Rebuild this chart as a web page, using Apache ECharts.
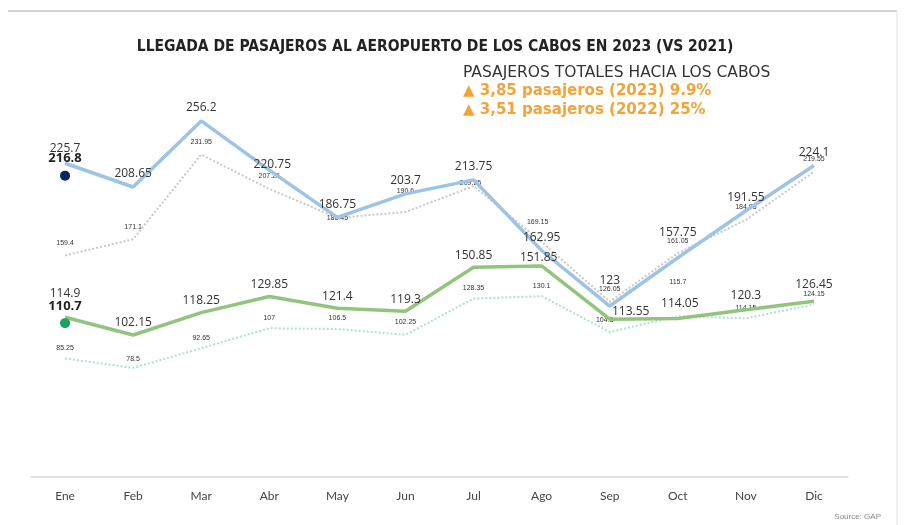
<!DOCTYPE html>
<html>
<head>
<meta charset="utf-8">
<script src="https://cdn.jsdelivr.net/npm/echarts@6/dist/echarts.min.js"></script>
<style>
  html, body { margin: 0; padding: 0; background: #fff; }
  #chart { width: 904px; height: 525px; }
</style>
</head>
<body>
<div id="chart"></div>
<script>
const months = ['Ene', 'Feb', 'Mar', 'Abr', 'May', 'Jun', 'Jul', 'Ago', 'Sep', 'Oct', 'Nov', 'Dic']

// totals (blue) and domestic-ish (green); solid = 2022, dotted = 2021, dot = 2023
const blue2022 = [225.7, 208.65, 256.2, 220.75, 186.75, 203.7, 213.75, 162.95, 123, 157.75, 191.55, 224.1]
const blue2021 = [159.4, 171.1, 231.95, 207.25, 186.45, 190.6, 209.25, 169.15, 126.05, 161.05, 184.95, 219.55]
const blue2023 = [216.8]
const green2022 = [114.9, 102.15, 118.25, 129.85, 121.4, 119.3, 150.85, 151.85, 113.55, 114.05, 120.3, 126.45]
const green2021 = [85.25, 78.5, 92.65, 107, 106.5, 102.25, 128.35, 130.1, 104.3, 115.7, 114.15, 124.15]
const green2023 = [110.7]

// label nudges [dx, dy] so the crowded labels sit where the original has them
const blue2022Nudge = { 0: [0, -2], 3: [3, 7], 8: [0, -12], 9: [0, -12] }
const blue2021Nudge = { 4: [0, 13], 5: [0, -9], 6: [-3, 9], 7: [-4, -7] }
const green2022Nudge = { 0: [0, -12], 7: [-3, 4], 8: [21, 4], 9: [2, -3], 10: [0, -2], 11: [0, -5] }
const green2021Nudge = { 1: [0, 2], 5: [0, -2], 8: [-5, -1], 9: [0, -24] }

const withNudge = (values, nudge) =>
  values.map((v, i) => (nudge[i] ? { value: v, label: { offset: nudge[i] } } : v))

const chart = echarts.init(document.getElementById('chart'))

const bigLabel = (dist) => ({
  show: true,
  position: 'top',
  distance: dist,
  fontSize: 12,
  color: '#333',
  fontFamily: 'Open Sans',
})
const smallLabel = (dist) => ({
  show: true,
  position: 'top',
  distance: dist,
  fontSize: 7,
  color: '#333',
  fontFamily: 'Liberation Sans',
})
// line labels need a symbol, keep it invisible
const hiddenDot = {
  symbol: 'circle',
  symbolSize: 2,
  showSymbol: true,
  showAllSymbol: true,
  itemStyle: { color: 'rgba(0,0,0,0)', borderWidth: 0 },
}

const option = {
  animation: false,
  title: [
    {
      text: 'LLEGADA DE PASAJEROS AL AEROPUERTO DE LOS CABOS EN 2023 (VS 2021)',
      left: 430,
      textAlign: 'center',
      top: 34,
      textStyle: { fontFamily: 'DejaVu Sans Condensed', fontSize: 15.5, fontWeight: 'bold', color: '#222' },
    },
    {
      text: 'PASAJEROS TOTALES HACIA LOS CABOS',
      left: 458,
      top: 60,
      textStyle: { fontFamily: 'DejaVu Sans', fontSize: 15.5, fontWeight: 'normal', color: '#333' },
    },
    {
      text: '▲ 3,85 pasajeros (2023) 9.9%',
      left: 458,
      top: 79,
      textStyle: { fontFamily: 'DejaVu Sans', fontSize: 15, fontWeight: 'bold', color: '#f2a43a' },
    },
    {
      text: '▲ 3,51 pasajeros (2022) 25%',
      left: 458,
      top: 98,
      textStyle: { fontFamily: 'DejaVu Sans', fontSize: 15, fontWeight: 'bold', color: '#f2a43a' },
    },
    {
      text: 'Source: GAP',
      right: 18,
      top: 508,
      textStyle: { fontFamily: 'Liberation Sans', fontSize: 8, fontWeight: 'normal', color: '#888' },
    },
  ],
  graphic: [
    { type: 'line', shape: { x1: 8, y1: 11, x2: 897, y2: 11 }, style: { stroke: '#d6d6d6', lineWidth: 2 } },
    { type: 'line', shape: { x1: 897, y1: 11, x2: 897, y2: 525 }, style: { stroke: '#e2e2e2', lineWidth: 1 } },
  ],
  grid: { left: 31, right: 56, top: 60, bottom: 48 },
  xAxis: {
    type: 'category',
    data: months,
    boundaryGap: true,
    axisLine: { lineStyle: { color: '#d9d9d9', width: 1.5 } },
    axisTick: { show: false },
    axisLabel: { color: '#444', fontSize: 12, margin: 13, fontFamily: 'Lato' },
  },
  yAxis: {
    type: 'value',
    min: 0,
    max: 300,
    show: false,
    splitLine: { show: false },
  },
  series: [
    {
      name: 'Total 2021',
      type: 'line',
      data: withNudge(blue2021, blue2021Nudge),
      ...hiddenDot,
      lineStyle: { color: '#c9c9c9', width: 2, type: 'dotted' },
      label: smallLabel(8),
      z: 1,
    },
    {
      name: 'Total 2022',
      type: 'line',
      data: withNudge(blue2022, blue2022Nudge),
      ...hiddenDot,
      lineStyle: { color: '#9dc3e6', width: 3.5 },
      label: bigLabel(6),
      z: 2,
    },
    {
      name: 'Total 2023',
      type: 'line',
      data: blue2023,
      symbol: 'circle',
      symbolSize: 10,
      itemStyle: { color: '#0d2366' },
      label: { show: true, position: 'top', distance: 6, fontSize: 13, fontWeight: 'bold', color: '#222', fontFamily: 'Open Sans' },
      z: 3,
    },
    {
      name: 'Nacional 2021',
      type: 'line',
      data: withNudge(green2021, green2021Nudge),
      ...hiddenDot,
      lineStyle: { color: '#a9e2d8', width: 2, type: 'dotted' },
      label: smallLabel(6),
      z: 1,
    },
    {
      name: 'Nacional 2022',
      type: 'line',
      data: withNudge(green2022, green2022Nudge),
      ...hiddenDot,
      lineStyle: { color: '#93c47d', width: 3.5 },
      label: bigLabel(5),
      z: 2,
    },
    {
      name: 'Nacional 2023',
      type: 'line',
      data: green2023,
      symbol: 'circle',
      symbolSize: 10,
      itemStyle: { color: '#1aa163' },
      label: { show: true, position: 'top', distance: 5, fontSize: 13, fontWeight: 'bold', color: '#222', fontFamily: 'Open Sans' },
      z: 3,
    },
  ],
}

chart.setOption(option)
</script>
</body>
</html>
